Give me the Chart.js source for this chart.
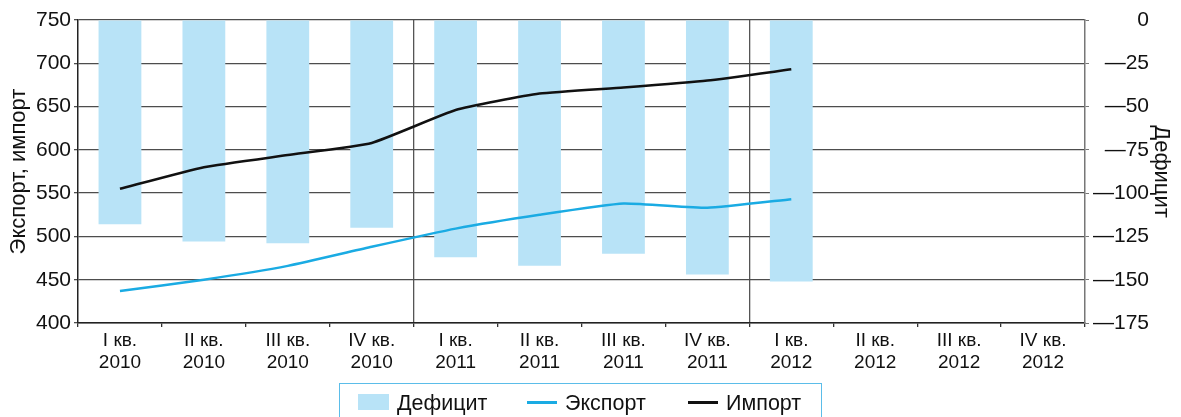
<!DOCTYPE html>
<html>
<head>
<meta charset="utf-8">
<script src="https://cdn.jsdelivr.net/npm/chart.js@4"></script>
<style>
  html, body { margin: 0; padding: 0; background: #fff; }
  #wrap { position: relative; width: 1181px; height: 417px; overflow: hidden; }
  #legend { position: absolute; left: 339px; top: 383px; width: 483px; height: 50px; border: 1px solid #5bbde9; box-sizing: border-box;
            font-family: "Liberation Sans", Arial, sans-serif; font-size: 21.5px; color: #111; }
  #legend span { position: absolute; top: 7px; line-height: 24px; }
  #legend i { position: absolute; display: block; }
</style>
</head>
<body>
<div id="wrap">
  <canvas id="chart" width="1181" height="417"></canvas>
  <div id="legend">
    <i style="left:18px; top:10px; width:31px; height:16px; background:#b8e3f7;"></i><span style="left:57px;">Дефицит</span>
    <i style="left:187px; top:17px; width:30px; height:3px; background:#1aabe3;"></i><span style="left:225px;">Экспорт</span>
    <i style="left:348px; top:17px; width:30px; height:3px; background:#111;"></i><span style="left:386px;">Импорт</span>
  </div>
</div>
<script>
const quarters = ['I кв.', 'II кв.', 'III кв.', 'IV кв.', 'I кв.', 'II кв.', 'III кв.', 'IV кв.', 'I кв.', 'II кв.', 'III кв.', 'IV кв.'];
const years = ['2010', '2010', '2010', '2010', '2011', '2011', '2011', '2011', '2012', '2012', '2012', '2012'];
const deficit = [-118, -128, -129, -120, -137, -142, -135, -147, -151, null, null, null];
const exportVals = [437, 450, 466, 488, 509, 525, 538, 533, 543, null, null, null];
const importVals = [555, 580, 594, 608, 646, 665, 672, 680, 693, null, null, null];

Chart.defaults.font.family = '"Liberation Sans", Arial, sans-serif';
Chart.defaults.color = '#111';

const ctx = document.getElementById('chart').getContext('2d');
const chart = new Chart(ctx, {
    type: 'bar',
    data: {
        labels: quarters.map((q, i) => [q, years[i]]),
        datasets: [
            { type: 'line', label: 'Импорт', data: importVals, yAxisID: 'y', borderColor: '#111', borderWidth: 2.5, pointRadius: 0, tension: 0.15, order: 0 },
            { type: 'line', label: 'Экспорт', data: exportVals, yAxisID: 'y', borderColor: '#1aabe3', borderWidth: 2.5, pointRadius: 0, tension: 0.15, order: 1 },
            { type: 'bar', label: 'Дефицит', data: deficit, yAxisID: 'y2', backgroundColor: '#b8e3f7', barPercentage: 0.51, categoryPercentage: 1, order: 2 }
        ]
    },
    options: {
        responsive: false,
        animation: false,
        layout: { padding: { top: 20, right: 32, bottom: 0, left: 0 } },
        plugins: { legend: { display: false }, tooltip: { enabled: false } },
        scales: {
            x: {
                offset: true,
                afterFit: s => { s.height = 94; },
                grid: {
                    offset: true,
                    color: c => (c.index === 4 || c.index === 8) ? '#555' : 'transparent',
                    lineWidth: 1.3, tickColor: '#333', tickLength: 4
                },
                border: { color: '#222', width: 1.5 },
                ticks: { font: { size: 19, lineHeight: 1.15 }, padding: 3, maxRotation: 0, autoSkip: false }
            },
            y: {
                position: 'left',
                min: 400, max: 750,
                afterFit: s => { s.width = 78; },
                grid: { color: '#4d4d4d', lineWidth: 1.3, tickLength: 4 },
                border: { color: '#222', width: 1.5 },
                ticks: { stepSize: 50, font: { size: 21 }, padding: 3 },
                title: { display: true, text: 'Экспорт, импорт', font: { size: 22 }, padding: { top: 6, bottom: 0 } }
            },
            y2: {
                position: 'right',
                min: -175, max: 0,
                afterFit: s => { s.width = 64; },
                grid: { drawOnChartArea: false, tickLength: 4, tickColor: '#777' },
                border: { color: '#777', width: 1.5 },
                ticks: { stepSize: 25, font: { size: 21 }, padding: 6, crossAlign: 'far',
                         callback: v => v === 0 ? '0' : '—' + Math.abs(v) },
                title: { display: true, text: 'Дефицит', font: { size: 22 }, padding: { top: -25, bottom: 0 } }
            }
        }
    }
});
</script>
</body>
</html>
